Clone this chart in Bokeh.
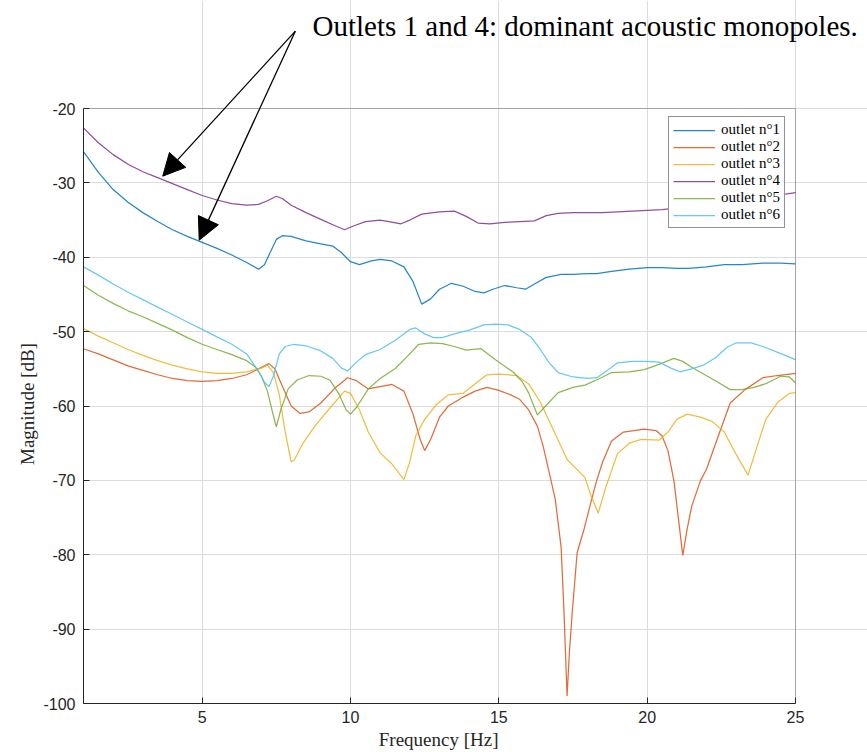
from bokeh.plotting import figure
from bokeh.models import (Range1d, FixedTicker, Legend, LegendItem, PrintfTickFormatter,
                          Arrow, NormalHead, Label, BoxAnnotation, Title)
from bokeh.embed import file_html
from bokeh.resources import INLINE

# ---------------- data ----------------
f1 = [1.0, 1.5, 2.0, 2.5, 3.0, 3.5, 4.0, 4.5, 5.0, 5.5, 6.0, 6.5, 6.9, 7.1, 7.3, 7.5, 7.7, 8.0,
      8.5, 9.0, 9.4, 9.7, 10.0, 10.3, 10.7, 11.0, 11.4, 11.8, 12.1, 12.4, 12.7, 13.0, 13.4, 13.8,
      14.2, 14.5, 14.8, 15.2, 15.6, 15.9, 16.2, 16.6, 17.1, 17.5, 18.0, 18.3, 18.8, 19.4, 20.0,
      20.5, 21.0, 21.4, 22.0, 22.6, 23.2, 23.9, 24.5, 25.0]
m1 = [-25.8, -28.6, -30.9, -32.6, -34.0, -35.2, -36.3, -37.2, -38.0, -38.8, -39.7, -40.7, -41.6,
      -41.0, -39.3, -37.6, -37.1, -37.2, -37.8, -38.2, -38.5, -39.4, -40.6, -41.0, -40.5, -40.3,
      -40.5, -41.3, -43.2, -46.3, -45.6, -44.3, -43.5, -43.9, -44.6, -44.8, -44.3, -43.8, -44.1,
      -44.3, -43.6, -42.7, -42.3, -42.3, -42.2, -42.2, -41.9, -41.6, -41.4, -41.4, -41.5, -41.5,
      -41.3, -41.0, -41.0, -40.8, -40.8, -40.9]

f2 = [1.0, 1.5, 2.0, 2.5, 3.0, 3.5, 4.0, 4.5, 5.0, 5.5, 6.0, 6.5, 7.0, 7.25, 7.45, 7.7, 8.0, 8.3,
      8.6, 9.0, 9.5, 9.9, 10.2, 10.6, 11.0, 11.4, 11.8, 12.1, 12.35, 12.5, 12.7, 13.0, 13.3, 13.8,
      14.2, 14.6, 15.0, 15.4, 15.7, 16.0, 16.3, 16.5, 16.7, 16.9, 17.1, 17.2, 17.3, 17.38, 17.47,
      17.64, 17.87, 18.1, 18.3, 18.5, 18.8, 19.2, 19.9, 20.3, 20.5, 20.7, 20.9, 21.05, 21.2, 21.35,
      21.5, 21.8, 22.0, 22.4, 22.8, 23.3, 23.9, 24.4, 25.0]
m2 = [-52.3, -53.0, -53.8, -54.6, -55.2, -55.8, -56.3, -56.6, -56.7, -56.6, -56.3, -55.8, -54.8,
      -54.3, -55.0, -57.3, -60.0, -61.0, -60.8, -59.6, -57.5, -56.2, -56.6, -57.7, -57.4, -57.1,
      -58.0, -61.0, -64.5, -66.0, -64.5, -61.5, -60.0, -58.8, -58.0, -57.5, -57.9, -58.5, -59.1,
      -60.5, -62.7, -65.5, -69.0, -72.5, -79.0, -88.0, -99.0, -93.0, -88.0, -79.7, -76.6, -73.0,
      -70.0, -67.5, -64.7, -63.5, -63.1, -63.3, -64.0, -66.0, -70.0, -75.0, -80.1, -76.5, -73.5,
      -70.0, -68.5, -64.0, -59.6, -57.8, -56.2, -55.9, -55.6]

f3 = [1.0, 1.5, 2.0, 2.5, 3.0, 3.5, 4.0, 4.5, 5.0, 5.5, 6.0, 6.5, 7.0, 7.2, 7.4, 7.6, 7.8, 8.0,
      8.1, 8.4, 8.8, 9.3, 9.8, 10.0, 10.3, 10.6, 11.0, 11.4, 11.8, 12.0, 12.2, 12.5, 12.9, 13.3,
      13.8, 14.2, 14.6, 15.0, 15.6, 16.0, 16.4, 16.8, 17.3, 17.9, 18.1, 18.35, 18.6, 19.0, 19.4,
      19.8, 20.4, 20.7, 21.0, 21.35, 21.8, 22.2, 22.6, 23.0, 23.4, 23.7, 24.0, 24.4, 24.8, 25.0]
m3 = [-49.6, -50.6, -51.5, -52.4, -53.2, -53.9, -54.5, -55.0, -55.4, -55.6, -55.6, -55.4, -54.9,
      -54.5, -55.5, -58.5, -63.5, -67.5, -67.3, -65.0, -62.7, -60.3, -58.0, -58.3, -60.5, -63.5,
      -66.3, -67.8, -69.9, -67.5, -64.0, -61.8, -59.8, -58.5, -58.3, -57.0, -55.8, -55.7, -55.9,
      -57.0, -59.5, -62.9, -67.2, -69.6, -72.0, -74.4, -71.0, -66.4, -65.0, -64.5, -64.6, -63.5,
      -61.8, -61.1, -61.5, -62.1, -63.5, -66.5, -69.3, -65.5, -61.8, -59.5, -58.3, -58.2]

f4 = [1.0, 1.5, 2.0, 2.5, 3.0, 3.5, 4.0, 4.5, 5.0, 5.5, 6.0, 6.5, 6.9, 7.2, 7.5, 7.7, 8.0, 8.5,
      9.0, 9.5, 9.8, 10.1, 10.5, 11.0, 11.3, 11.7, 12.0, 12.4, 13.0, 13.5, 13.9, 14.3, 14.7, 15.2,
      15.7, 16.2, 16.6, 17.0, 17.5, 18.0, 18.5, 19.0, 19.5, 20.0, 20.5, 21.0, 22.0, 23.0, 24.0, 25.0]
m4 = [-22.6, -24.6, -26.2, -27.5, -28.5, -29.3, -30.1, -30.9, -31.7, -32.3, -32.8, -33.0, -32.9,
      -32.4, -31.8, -32.1, -33.0, -34.0, -34.9, -35.8, -36.3, -35.8, -35.2, -35.0, -35.2, -35.5,
      -35.0, -34.2, -33.9, -33.8, -34.5, -35.4, -35.5, -35.3, -35.2, -35.1, -34.4, -34.1, -34.0,
      -34.0, -34.0, -33.9, -33.8, -33.7, -33.6, -33.4, -33.0, -32.5, -31.9, -31.3]

f5 = [1.0, 1.5, 2.0, 2.5, 3.0, 3.5, 4.0, 4.5, 5.0, 5.5, 6.0, 6.5, 6.8, 7.0, 7.2, 7.35, 7.5, 7.65,
      7.9, 8.2, 8.6, 9.0, 9.3, 9.6, 9.85, 10.0, 10.2, 10.6, 11.0, 11.5, 11.9, 12.3, 12.7, 13.1,
      13.5, 13.9, 14.4, 14.9, 15.5, 15.8, 16.0, 16.3, 16.6, 17.0, 17.5, 17.9, 18.4, 18.8, 19.4,
      19.9, 20.4, 20.9, 21.2, 21.5, 21.9, 22.3, 22.8, 23.2, 23.6, 24.0, 24.5, 24.8, 25.0]
m5 = [-43.8, -45.1, -46.2, -47.2, -48.0, -48.9, -49.8, -50.8, -51.7, -52.4, -53.1, -53.9, -54.8,
      -56.0, -58.0, -60.5, -62.8, -60.5, -57.7, -56.5, -55.9, -56.0, -56.5, -58.3, -60.5, -61.1,
      -60.2, -57.7, -56.3, -55.0, -53.4, -51.7, -51.5, -51.6, -52.0, -52.5, -52.3, -53.8, -55.5,
      -56.8, -58.2, -61.2, -59.9, -58.2, -57.5, -57.2, -56.3, -55.5, -55.4, -55.1, -54.4, -53.6,
      -54.0, -54.8, -55.7, -56.6, -57.8, -57.8, -57.5, -57.0, -56.0, -56.1, -56.9]

f6 = [1.0, 1.5, 2.0, 2.5, 3.0, 3.5, 4.0, 4.5, 5.0, 5.5, 6.0, 6.5, 6.9, 7.1, 7.25, 7.4, 7.6, 7.8,
      8.1, 8.5, 9.0, 9.4, 9.7, 9.9, 10.2, 10.5, 11.0, 11.5, 12.0, 12.2, 12.5, 12.8, 13.1, 13.5,
      14.0, 14.5, 14.9, 15.3, 15.7, 16.1, 16.4, 16.7, 17.0, 17.5, 18.0, 18.3, 18.7, 19.0, 19.5,
      20.0, 20.4, 20.8, 21.1, 21.5, 21.9, 22.3, 22.7, 23.0, 23.5, 23.9, 24.4, 24.9, 25.0]
m6 = [-41.3, -42.4, -43.6, -44.7, -45.7, -46.7, -47.7, -48.7, -49.7, -50.7, -51.7, -53.0, -55.3,
      -56.8, -57.4, -56.0, -53.0, -52.0, -51.7, -51.9, -52.6, -53.6, -54.9, -55.3, -54.1, -53.1,
      -52.4, -51.2, -49.7, -49.5, -50.3, -50.8, -50.8, -50.3, -49.8, -49.1, -49.0, -49.1, -49.7,
      -50.8, -52.4, -54.2, -55.5, -56.1, -56.3, -56.2, -55.1, -54.2, -54.0, -54.0, -54.1, -54.9,
      -55.4, -55.0, -54.5, -53.5, -52.1, -51.5, -51.5, -52.0, -52.8, -53.6, -53.8]

labels = ["outlet n°1", "outlet n°2", "outlet n°3", "outlet n°4", "outlet n°5", "outlet n°6"]
colors = ["#0072BD", "#D95319", "#EDB120", "#7E2F8E", "#77AC30", "#4DBEEE"]

x_lim = (1, 25)
y_lim = (-100, -20)
x_ticks = [5, 10, 15, 20, 25]
y_ticks = [-100, -90, -80, -70, -60, -50, -40, -30, -20]
x_label = "Frequency [Hz]"
y_label = "Magnitude [dB]"

note_text = "Outlets 1 and 4: dominant acoustic monopoles."
note_pos = (8.72, -8.9)
arrow_start = (8.14, -9.6)
arrow_ends = [(3.67, -29.1), (4.9, -37.7)]

# ---------------- layout ----------------
# The frame is extended above and to the right of the axes box so that the
# annotation (text + arrows) can be drawn there; the axes box itself is 1..25 x -100..-20.
AX = "#262626"
BOX_L, BOX_R, BOX_T, BOX_B = 83, 795, 108, 703      # axes box in page pixels
FRAME_W, FRAME_H = 867 - BOX_L, BOX_B
PX_PER_HZ = (BOX_R - BOX_L) / (x_lim[1] - x_lim[0])
PX_PER_DB = (BOX_B - BOX_T) / (y_lim[1] - y_lim[0])
x_end = x_lim[0] + FRAME_W / PX_PER_HZ
y_end = y_lim[1] + BOX_T / PX_PER_DB

p = figure(frame_width=FRAME_W, frame_height=FRAME_H, output_backend="svg",
           toolbar_location=None, title=None,
           x_range=Range1d(x_lim[0], x_end), y_range=Range1d(y_lim[0], y_end),
           min_border_left=BOX_L, min_border_right=0, min_border_top=0, min_border_bottom=0)
p.background_fill_color = "white"
p.border_fill_color = "white"
p.outline_line_color = None

for ax in (p.xaxis[0], p.yaxis[0]):
    ax.axis_line_color = AX
    ax.major_tick_line_color = AX
    ax.major_tick_in = 6
    ax.major_tick_out = 0
    ax.minor_tick_line_color = None
    ax.major_label_text_font = "Liberation Sans"
    ax.major_label_text_font_size = "16px"
    ax.major_label_text_color = AX
    ax.formatter = PrintfTickFormatter(format="%d")

p.xaxis[0].ticker = FixedTicker(ticks=x_ticks)
p.yaxis[0].ticker = FixedTicker(ticks=y_ticks)
p.xaxis[0].bounds = x_lim
p.yaxis[0].bounds = y_lim
p.xaxis[0].major_label_standoff = 7
p.yaxis[0].major_label_standoff = 8

# axis titles centred on the axes box (not on the extended frame)
LBL_FS = 19
LBL_W = 118  # approx. text length at LBL_FS
p.add_layout(Title(text=x_label, align="right", offset=867 - ((BOX_L + BOX_R) / 2 + LBL_W / 2),
                   text_font="Liberation Serif", text_font_size=f"{LBL_FS}px",
                   text_font_style="normal", text_color=AX, standoff=2), "below")
p.add_layout(Title(text=y_label, align="left", offset=BOX_B - ((BOX_T + BOX_B) / 2 + LBL_W / 2),
                   text_font="Liberation Serif", text_font_size=f"{LBL_FS}px",
                   text_font_style="normal", text_color=AX, standoff=6), "left")

p.xgrid.ticker = FixedTicker(ticks=x_ticks)
p.ygrid.ticker = FixedTicker(ticks=y_ticks)
p.xgrid.bounds = y_lim
p.ygrid.bounds = x_lim
p.xgrid.grid_line_color = "#dcdcdc"
p.ygrid.grid_line_color = "#dcdcdc"

# axes box
p.add_layout(BoxAnnotation(left=x_lim[0], right=x_lim[1], bottom=y_lim[0], top=y_lim[1],
                           fill_alpha=0, line_color=AX, line_width=1, level="underlay"))

series = [(f1, m1), (f2, m2), (f3, m3), (f4, m4), (f5, m5), (f6, m6)]
items = []
for (fx, my), lab, col in zip(series, labels, colors):
    r = p.line(fx, my, line_color=col, line_width=1.25, line_alpha=0.85)
    items.append(LegendItem(label=lab, renderers=[r]))

legend = Legend(items=items, location=(668 - BOX_L, BOX_B - 228))
legend.label_text_font = "Liberation Serif"
legend.label_text_font_size = "15px"
legend.label_text_color = "black"
legend.glyph_width = 42
legend.glyph_height = 14
legend.label_height = 14
legend.label_standoff = 6
legend.spacing = 0
legend.padding = 4
legend.margin = 0
legend.border_line_color = AX
legend.border_line_width = 1
legend.background_fill_color = "white"
legend.background_fill_alpha = 1
p.add_layout(legend)

# annotation
for (xe, ye) in arrow_ends:
    p.add_layout(Arrow(end=NormalHead(size=22, fill_color="black", line_color="black"),
                       x_start=arrow_start[0], y_start=arrow_start[1], x_end=xe, y_end=ye,
                       line_color="black", line_width=1.3))
p.add_layout(Label(x=note_pos[0], y=note_pos[1], text=note_text,
                   text_font="Liberation Serif", text_font_size="29px",
                   text_baseline="middle", text_color="black"))

open("out.html", "w").write(file_html(p, INLINE))
